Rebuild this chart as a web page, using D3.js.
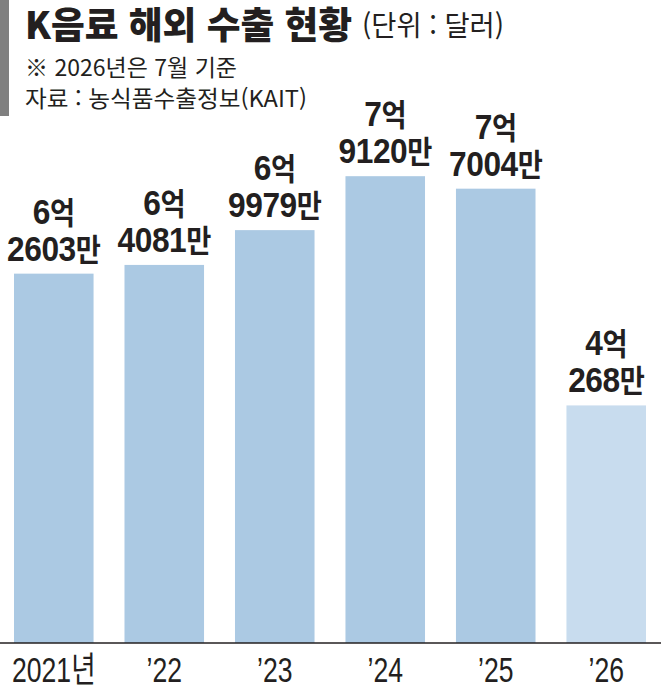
<!DOCTYPE html>
<html lang="ko">

<head>
    <meta charset="UTF-8" />
    <script src="https://d3js.org/d3.v7.min.js"></script>
    <title>K음료 해외 수출 현황</title>
    <style>
        body { margin: 0; background: #fff; }
        svg { display: block; }
    </style>
</head>

<body>
    <script>
        const width = 661,
            height = 691

        // data (달러)
        const years = ['2021년', '’22', '’23', '’24', '’25', '’26']
        const exports = [626030000, 640810000, 699790000, 791200000, 770040000, 402680000]
        const barColors = ['#abc9e3', '#abc9e3', '#abc9e3', '#abc9e3', '#abc9e3', '#c8dcee']

        const ink = '#231f20'
        const hangul = '"Noto Sans CJK KR", sans-serif'
        const latin = '"Liberation Sans", "Noto Sans CJK KR", sans-serif'

        const svg = d3.select('body').append('svg').attr('width', width).attr('height', height)

        // title block
        svg.append('rect').attr('x', 0).attr('y', 0).attr('width', 9).attr('height', 116).attr('fill', '#808080')

        svg.append('text')
            .attr('x', 25).attr('y', 39)
            .attr('font-family', hangul).attr('font-weight', 900).attr('font-size', 37)
            .attr('textLength', 327).attr('lengthAdjust', 'spacingAndGlyphs')
            .attr('fill', ink)
            .text('K음료 해외 수출 현황')

        svg.append('text')
            .attr('x', 362).attr('y', 36)
            .attr('font-family', hangul).attr('font-weight', 400).attr('font-size', 28)
            .attr('textLength', 142).attr('lengthAdjust', 'spacingAndGlyphs')
            .attr('fill', ink)
            .text('(단위 : 달러)')

        svg.append('text')
            .attr('x', 25).attr('y', 76)
            .attr('font-family', hangul).attr('font-weight', 400).attr('font-size', 23)
            .attr('textLength', 212).attr('lengthAdjust', 'spacingAndGlyphs')
            .attr('fill', ink)
            .text('※ 2026년은 7월 기준')

        svg.append('text')
            .attr('x', 25).attr('y', 107)
            .attr('font-family', hangul).attr('font-weight', 400).attr('font-size', 23)
            .attr('textLength', 282).attr('lengthAdjust', 'spacingAndGlyphs')
            .attr('fill', ink)
            .text('자료 : 농식품수출정보(KAIT)')

        // scales
        const x = d3.scaleBand()
            .domain(years)
            .range([14, 646])
            .paddingInner(0.28)
            .paddingOuter(0)

        const y = d3.scaleLinear()
            .domain([0, 800000000])
            .range([643, 171])

        const data = years.map((year, i) => ({ year, value: exports[i], color: barColors[i] }))

        // bars
        svg.selectAll('rect.bar').data(data).enter()
            .append('rect')
            .attr('class', 'bar')
            .attr('x', d => x(d.year))
            .attr('y', d => y(d.value))
            .attr('width', x.bandwidth())
            .attr('height', d => y(0) - y(d.value))
            .attr('fill', d => d.color)

        // value labels: 억 / 만
        const label = svg.selectAll('g.label').data(data).enter()
            .append('g')
            .attr('class', 'label')
            .attr('transform', d => `translate(${x(d.year) + x.bandwidth() / 2},${y(d.value) - 13}) scale(0.88,1)`)
            .attr('font-family', latin).attr('font-weight', 700)
            .attr('fill', ink).attr('text-anchor', 'middle')

        const line1 = label.append('text').attr('y', -37).attr('letter-spacing', -0.5)
        line1.append('tspan').attr('font-size', 36).text(d => Math.floor(d.value / 1e8))
        line1.append('tspan').attr('font-size', 31).attr('font-family', hangul).text('억')

        const line2 = label.append('text').attr('y', 0).attr('letter-spacing', -0.5)
        line2.append('tspan').attr('font-size', 36).text(d => Math.round((d.value % 1e8) / 1e4))
        line2.append('tspan').attr('font-size', 31).attr('font-family', hangul).text('만')

        // x axis
        const axis = svg.append('g')
            .attr('transform', `translate(0,${y(0)})`)
            .call(d3.axisBottom(x).tickSize(0).tickPadding(0))

        axis.select('.domain').remove()
        axis.append('line')
            .attr('x1', 0).attr('x2', width)
            .attr('stroke', ink).attr('stroke-width', 1.6)

        axis.selectAll('.tick text')
            .attr('y', 0)
            .attr('dy', 0)
            .attr('transform', 'translate(0,39) scale(0.76,1)')
            .attr('font-family', latin).attr('font-weight', 400).attr('font-size', 35)
            .attr('fill', ink)
    </script>
</body>

</html>
